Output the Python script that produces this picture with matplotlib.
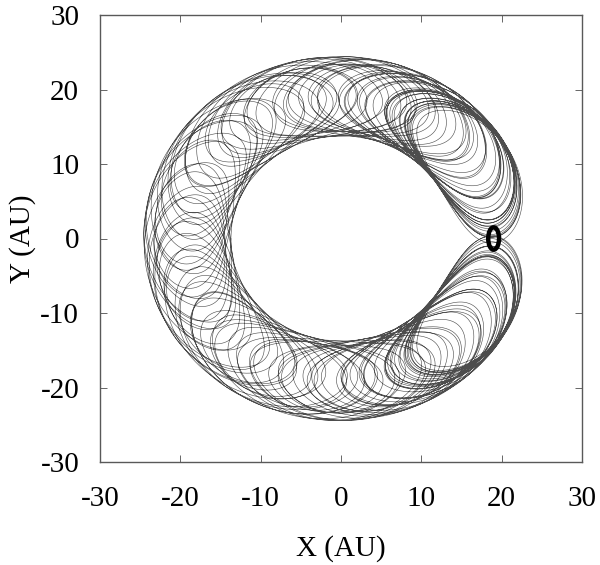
import numpy as np
import matplotlib
matplotlib.use("Agg")
import matplotlib.pyplot as plt
from matplotlib.patches import Ellipse

# ---- values ----
guide_radius_au = 19.0          # mean radius of the horseshoe band
eccentricity = 0.26             # band half width ~5 AU (about 14..24 AU)
turn_azimuth_deg = [28, 33, 30, 36, 31]   # guiding-centre turning azimuth per cycle
libration_period_orbits = 26.7  # orbits per horseshoe cycle
radial_shift_au = 0.5           # inner/outer shift of the guiding centre
planet_center = [19.0, 0.0]
planet_size = [1.35, 3.0]       # width, height of the thick ellipse
x_ticks = [-30, -20, -10, 0, 10, 20, 30]
y_ticks = [-30, -20, -10, 0, 10, 20, 30]
x_label = "X (AU)"
y_label = "Y (AU)"

plt.rcParams["font.family"] = ["Liberation Serif", "DejaVu Serif"]
plt.rcParams["axes.unicode_minus"] = False

n_cycles = len(turn_azimuth_deg)
n_orbits = n_cycles * libration_period_orbits
tau = np.linspace(0, n_orbits, int(n_orbits * 600))
M = 2 * np.pi * tau                                  # mean anomaly
psi = 2 * np.pi * tau / libration_period_orbits      # libration phase
cycle = np.minimum((tau / libration_period_orbits).astype(int), n_cycles - 1)
amp = np.pi - np.deg2rad(np.array(turn_azimuth_deg, dtype=float))[cycle]
phi_g = np.pi + amp * np.sin(psi)
a = guide_radius_au - radial_shift_au * np.cos(psi)

E = M.copy()
for _ in range(30):
    E = M + eccentricity * np.sin(E)
f = 2 * np.arctan2(np.sqrt(1 + eccentricity) * np.sin(E / 2),
                   np.sqrt(1 - eccentricity) * np.cos(E / 2))
r = a * (1 - eccentricity * np.cos(E))
dphi = np.angle(np.exp(1j * (f - M)))
phi = phi_g + dphi
x = r * np.cos(phi)
y = r * np.sin(phi)

fig = plt.figure(figsize=(6.0, 5.65), dpi=100)
ax = fig.add_axes([100 / 600, 1 - 462 / 565, 482 / 600, 447 / 565])
ax.plot(x, y, color="0.3", lw=0.42)
ax.add_patch(Ellipse(planet_center, planet_size[0], planet_size[1],
                     fill=False, ec="black", lw=3.2, zorder=5))

ax.set_xlim(x_ticks[0], x_ticks[-1])
ax.set_ylim(y_ticks[0], y_ticks[-1])
ax.set_xticks(x_ticks)
ax.set_yticks(y_ticks)
ax.tick_params(direction="in", length=5, width=0.6, top=True, right=True,
               labelsize=21, colors="0.3", labelcolor="black")
ax.tick_params(axis="x", pad=17)
ax.tick_params(axis="y", pad=15)
for s in ax.spines.values():
    s.set_color("0.35")
    s.set_linewidth(1.0)
ax.set_xlabel(x_label, fontsize=21, labelpad=17)
ax.set_ylabel(y_label, fontsize=21, labelpad=3)

fig.savefig("out.png", dpi=100)
